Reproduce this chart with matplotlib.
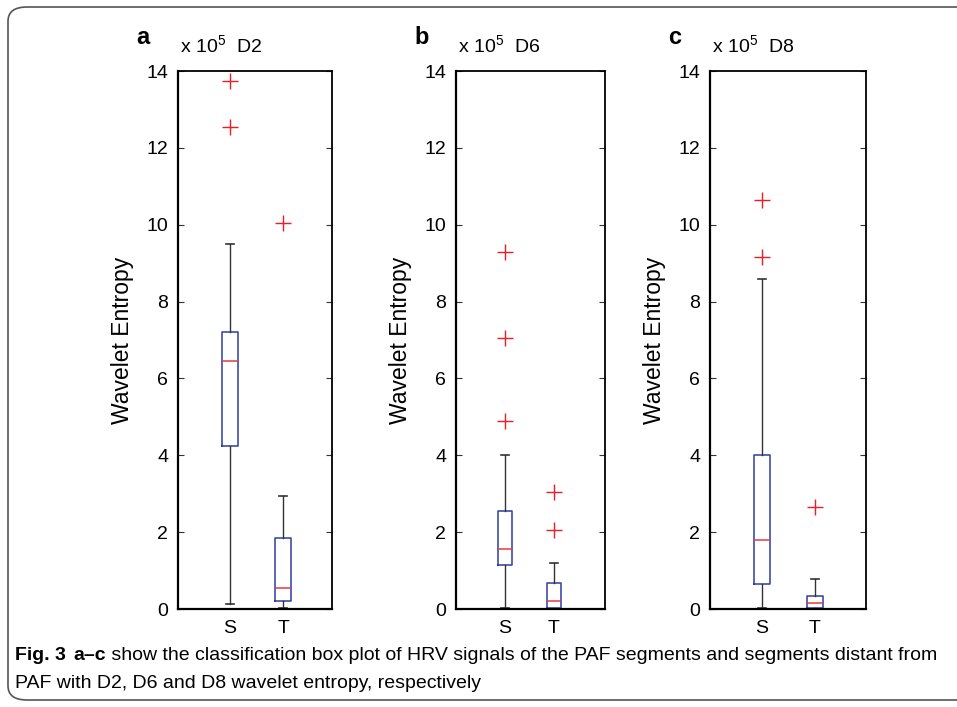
import matplotlib
matplotlib.use("Agg")
import matplotlib.pyplot as plt
from matplotlib.patches import FancyBboxPatch

plt.rcParams['font.family'] = ['Liberation Sans', 'DejaVu Sans']
plt.rcParams['mathtext.fontset'] = 'custom'
plt.rcParams['mathtext.rm'] = 'Liberation Sans'

W, H = 957, 707

# ---- data (units of 1e5) ----
groups = ['S', 'T']
panels = ['a', 'b', 'c']
levels = ['D2', 'D6', 'D8']

# [whislo, q1, med, q3, whishi]
d2_S = [0.12, 4.25, 6.45, 7.2, 9.5]
d2_T = [0.02, 0.2, 0.55, 1.85, 2.95]
d2_S_out = [13.75, 12.55]
d2_T_out = [10.05]

d6_S = [0.02, 1.15, 1.55, 2.55, 4.0]
d6_T = [0.0, 0.02, 0.2, 0.68, 1.2]
d6_S_out = [9.3, 7.05, 4.9]
d6_T_out = [3.05, 2.05]

d8_S = [0.02, 0.65, 1.8, 4.02, 8.58]
d8_T = [0.0, 0.02, 0.15, 0.35, 0.78]
d8_S_out = [10.65, 9.15]
d8_T_out = [2.65]

yticks = [0, 2, 4, 6, 8, 10, 12, 14]

caption_bold = "Fig. 3"
caption_bold2 = "a\u2013c"
caption_1 = " show the classification box plot of HRV signals of the PAF segments and segments distant from"
caption_2 = "PAF with D2, D6 and D8 wavelet entropy, respectively"

data = [
    (d2_S, d2_T, d2_S_out, d2_T_out),
    (d6_S, d6_T, d6_S_out, d6_T_out),
    (d8_S, d8_T, d8_S_out, d8_T_out),
]

# layout in pixels
ax_px = [(178, 332), (456, 605), (710, 866)]
xlims = [(0.02, 2.92), (0.0, 3.04), (0.02, 2.96)]
top_px, bot_px = 71, 609

fig = plt.figure(figsize=(W / 100, H / 100), dpi=100)

def fx(x):
    return x / W

def fy(y):
    return 1 - y / H

# outer rounded frame
frame = FancyBboxPatch((fx(8), fy(700)), fx(1000) - fx(8), fy(7) - fy(700),
                       boxstyle="round,pad=0,rounding_size=0.02",
                       transform=fig.transFigure, fill=False,
                       edgecolor='#555555', linewidth=1.2, clip_on=False)
fig.patches.append(frame)

box_c = '#2d3f9e'
med_c = '#e8383a'
wh_c = '#333333'

for i, ((S, T, So, To), (l, r)) in enumerate(zip(data, ax_px)):
    ax = fig.add_axes([fx(l), fy(bot_px), fx(r) - fx(l), fy(top_px) - fy(bot_px)])
    stats = []
    for vals, outs, name in ((S, So, groups[0]), (T, To, groups[1])):
        stats.append(dict(whislo=vals[0], q1=vals[1], med=vals[2], q3=vals[3],
                          whishi=vals[4], fliers=outs, label=name))
    ax.bxp(stats, positions=[1, 2], widths=0.3, showfliers=True,
           boxprops=dict(color=box_c, linewidth=1.1),
           medianprops=dict(color=med_c, linewidth=1.1),
           whiskerprops=dict(color=wh_c, linewidth=1.0, linestyle='-'),
           capprops=dict(color=wh_c, linewidth=1.2),
           flierprops=dict(marker='+', markeredgecolor='#ee1c24',
                           markersize=12, markeredgewidth=1.0, linestyle='none'),
           capwidths=0.15)
    ax.set_xlim(*xlims[i])
    ax.set_ylim(0, 14)
    ax.set_yticks(yticks)
    ax.set_yticklabels([str(t) for t in yticks], fontsize=14)
    ax.tick_params(axis='y', direction='in', length=4, width=0.8, right=True,
                   pad=7, color='#333333')
    ax.tick_params(axis='x', length=0, labelsize=14, pad=8)
    ax.set_xticks([1, 2])
    ax.set_xticklabels(groups)
    for sp in ax.spines.values():
        sp.set_linewidth(1.3)
    ax.spines['bottom'].set_linewidth(1.6)
    ax.spines['left'].set_linewidth(1.6)
    ax.set_ylabel('Wavelet Entropy', fontsize=16.5, labelpad=9)
    # multiplier + level label
    fig.text(fx(l + 2), fy(46), r'x 10$^{5}$  ' + levels[i], fontsize=14,
             ha='left', va='center')
    fig.text(fx(l - 42), fy(38), panels[i], fontsize=17, fontweight='bold',
             ha='left', va='center')

# caption
cfam = ['Liberation Sans Narrow', 'Liberation Sans']
cfs = 14
t1 = fig.text(fx(15), fy(655), caption_bold, fontsize=cfs, fontweight='bold',
              ha='left', va='center', family=cfam)
fig.canvas.draw()
bb = t1.get_window_extent()
t2 = fig.text(bb.x1 / W + fx(8), fy(655), caption_bold2, fontsize=cfs, fontweight='bold',
              ha='left', va='center', family=cfam)
fig.canvas.draw()
bb2 = t2.get_window_extent()
fig.text(bb2.x1 / W, fy(655), caption_1, fontsize=cfs,
         ha='left', va='center', family=cfam)
fig.text(fx(15), fy(684), caption_2, fontsize=cfs,
         ha='left', va='center', family=cfam)

fig.savefig('out.png', dpi=100)
